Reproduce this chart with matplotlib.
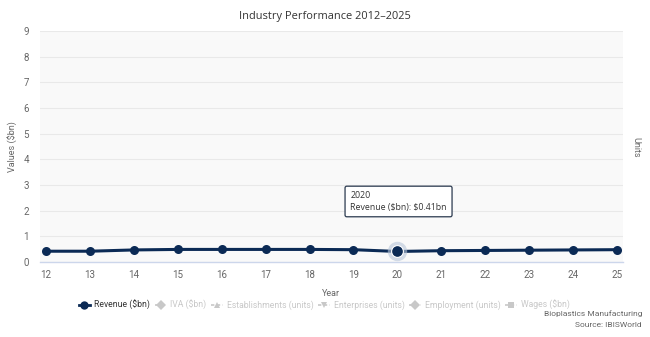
import matplotlib
matplotlib.use("Agg")
import matplotlib.pyplot as plt
from matplotlib.lines import Line2D

# Revenue series (only visible series)
years = [12, 13, 14, 15, 16, 17, 18, 19, 20, 21, 22, 23, 24, 25]
revenue = [0.42, 0.42, 0.47, 0.49, 0.49, 0.49, 0.49, 0.48, 0.41, 0.44, 0.45, 0.46, 0.47, 0.48]
y_ticks = [0, 1, 2, 3, 4, 5, 6, 7, 8, 9]

# legend entries: label, marker, active
legend_items = [
    ("Revenue (\\$bn)", "o", True),
    ("IVA (\\$bn)", "D", False),
    ("Establishments (units)", "^", False),
    ("Enterprises (units)", "v", False),
    ("Employment (units)", "D", False),
    ("Wages (\\$bn)", "s", False),
]

hover_year = 20
hover_value = revenue[years.index(hover_year)]

NAVY = "#0b2a55"
GREY_TXT = "#666666"
HIDDEN = "#c8c8c8"

plt.rcParams["font.family"] = ["Roboto", "DejaVu Sans"]

fig = plt.figure(figsize=(6.5, 3.37), dpi=100)
ax = fig.add_axes([40 / 650, 1 - 262 / 337, 583 / 650, 231 / 337])
ax.set_facecolor("#f9f9f9")

ax.plot(years, revenue, color=NAVY, lw=2.2, marker="o", ms=6.5,
        markeredgewidth=0, zorder=3)

# hovered point with halo
ax.plot([hover_year], [hover_value], marker="o", ms=14, color="#b8c6da",
        alpha=0.6, markeredgewidth=0, zorder=4)
ax.plot([hover_year], [hover_value], marker="o", ms=8.5, color=NAVY,
        markeredgecolor="white", markeredgewidth=0.8, zorder=5)

ax.set_xlim(11.86, 25.14)
ax.set_ylim(0, 9)
ax.set_xticks(years)
ax.set_xticklabels([str(y) for y in years])
ax.set_yticks(y_ticks)
ax.grid(axis="y", color="#e9e9e9", lw=0.8)
ax.set_axisbelow(True)
for side in ("left", "right", "top"):
    ax.spines[side].set_visible(False)
ax.spines["bottom"].set_color("#ccd6eb")
ax.spines["bottom"].set_linewidth(1)
ax.tick_params(axis="both", length=0, labelsize=7, colors=GREY_TXT)
ax.tick_params(axis="x", pad=6)
ax.tick_params(axis="y", pad=8)

ax.set_xlabel("Year", fontsize=6.5, color=GREY_TXT, labelpad=6)

fig.text(13 / 650, 1 - 147 / 337, "Values (\\$bn)", rotation=90, fontsize=6.5,
         color=GREY_TXT, ha="center", va="center")
fig.text(636 / 650, 1 - 147 / 337, "Units", rotation=270, fontsize=6.5,
         color=GREY_TXT, ha="center", va="center")

fig.text(0.5, 1 - 17 / 337, "Industry Performance 2012\u20132025",
         fontsize=7.9, color="#333333", ha="center", va="center",
         family=["Open Sans", "DejaVu Sans"])

# tooltip
ax.text(0.615, 0.262, "2020\nRevenue (\\$bn): \\$0.41bn", transform=ax.transAxes,
        fontsize=6.3, color="#333333", ha="center", va="center", linespacing=1.3,
        multialignment="left", family=["Open Sans", "DejaVu Sans"], zorder=6,
        bbox=dict(boxstyle="round,pad=0.6,rounding_size=0.2",
                  fc="white", ec="#2b3a4f", lw=0.9))

# legend
handles = []
for label, marker, active in legend_items:
    col = NAVY if active else HIDDEN
    ls = "-" if active else (0, (2, 1.5))
    handles.append(Line2D([], [], color=col, lw=2 if active else 1.2, ls=ls,
                          marker=marker, ms=6 if active else 5,
                          markeredgewidth=0, label=label))
leg = fig.legend(handles=handles, loc="center", ncol=6,
                 bbox_to_anchor=(0.499, 1 - 305 / 337), frameon=False,
                 fontsize=6.2, handlelength=1.3, handletextpad=0.5,
                 columnspacing=0.55)
for text, (label, marker, active) in zip(leg.get_texts(), legend_items):
    text.set_color("#333333" if active else HIDDEN)

fig.text(642 / 650, 1 - 314 / 337, "Bioplastics Manufacturing", fontsize=6,
         color=GREY_TXT, ha="right", va="center")
fig.text(642 / 650, 1 - 325 / 337, "Source: IBISWorld", fontsize=6,
         color=GREY_TXT, ha="right", va="center")

fig.savefig("out.png", dpi=100, facecolor="white")
